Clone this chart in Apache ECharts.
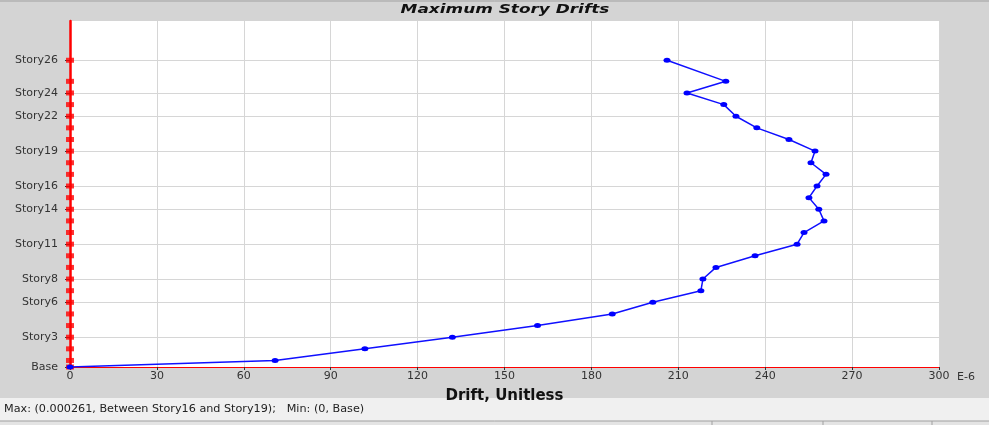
<!DOCTYPE html>
<html>
<head>
<meta charset="utf-8">
<script src="https://cdn.jsdelivr.net/npm/echarts@6/dist/echarts.min.js"></script>
<style>html,body{margin:0;padding:0;background:#d4d4d4;}#c{width:989px;height:425px;}</style>
</head>
<body>
<div id="c"></div>
<script>
// Story names, elevations (m) and maximum drifts (x 1E-6)
const stories = ['Base','Story1','Story2','Story3','Story4','Story5','Story6','Story7','Story8','Story9','Story10','Story11','Story12','Story13','Story14','Story15','Story16','Story17','Story18','Story19','Story20','Story21','Story22','Story23','Story24','Story25','Story26'];
const elevations = [0, 1.8, 5.0, 8.2, 11.4, 14.6, 17.8, 21.0, 24.2, 27.4, 30.6, 33.8, 37.0, 40.2, 43.4, 46.6, 49.8, 53.0, 56.2, 59.4, 62.6, 65.8, 69.0, 72.2, 75.4, 78.6, 84.4];
const drifts = [0, 70.8, 101.8, 132.0, 161.4, 187.2, 201.2, 217.8, 218.5, 223.0, 236.5, 251.0, 253.4, 260.3, 258.5, 255.1, 257.9, 261.0, 255.8, 257.2, 248.2, 237.1, 229.9, 225.7, 213.0, 226.4, 206.1];
const labeledStories = ['Base','Story3','Story6','Story8','Story11','Story14','Story16','Story19','Story22','Story24','Story26'];
const xMin = 0, xMax = 300, xStep = 30;
const yMax = 95.2;
const titleText = 'Maximum Story Drifts';
const xAxisName = 'Drift, Unitless';
const xUnit = 'E-6';
const statusText = 'Max: (0.000261, Between Story16 and Story19);   Min: (0, Base)';

const labeledElev = labeledStories.map(s => elevations[stories.indexOf(s)]);
function storyAt(v){
  let best = 0, d = Infinity;
  elevations.forEach((e,i)=>{ const dd = Math.abs(e - v); if (dd < d){ d = dd; best = i; } });
  return stories[best];
}

const font = 'DejaVu Sans';
const chart = echarts.init(document.getElementById('c'), null, {renderer:'canvas'});
chart.setOption({
  backgroundColor: '#d4d4d4',
  animation: false,
  grid: { left: 70, top: 21, width: 869, height: 346, show: true, backgroundColor: '#ffffff', borderWidth: 0 },
  xAxis: {
    type: 'value', min: xMin, max: xMax, interval: xStep,
    name: xAxisName, nameLocation: 'middle', nameGap: 22,
    nameTextStyle: { fontFamily: font, fontWeight: 'bold', fontSize: 15, color: '#111' },
    axisLine: { show: true, onZero: false, lineStyle: { color: '#ff0000', width: 1 } },
    axisTick: { show: true, length: 3, lineStyle: { color: '#333' } },
    axisLabel: { fontFamily: font, fontSize: 11, color: '#333', margin: 4 },
    splitLine: { show: true, lineStyle: { color: '#d6d6d6', width: 1 } }
  },
  yAxis: {
    type: 'value', min: 0, max: yMax,
    axisLine: { show: true, onZero: false, lineStyle: { color: '#ff0000', width: 2.5 } },
    axisTick: { show: true, length: 5, customValues: labeledElev, lineStyle: { color: '#333' } },
    axisLabel: { fontFamily: font, fontSize: 11, color: '#333', margin: 12, customValues: labeledElev, formatter: v => storyAt(v) },
    splitLine: { show: true, lineStyle: { color: '#d6d6d6', width: 1 } }
  },
  series: [
    {
      type: 'scatter', name: 'levels',
      data: elevations.map(e => [0, e]),
      symbol: 'rect', symbolSize: [8, 5],
      itemStyle: { color: '#ff0000' }, z: 3, silent: true
    },
    {
      type: 'line', name: 'drift',
      data: drifts.map((d, i) => [d, elevations[i]]),
      symbol: 'circle', symbolSize: [7, 5], showSymbol: true,
      lineStyle: { color: '#1010ff', width: 1.5 },
      itemStyle: { color: '#0000ff' }, z: 4, silent: true
    }
  ],
  graphic: [
    { type: 'line', shape: { x1: 0, y1: 1, x2: 989, y2: 1 }, style: { stroke: '#a0a0a0', lineWidth: 1 }, silent: true },
    { type: 'text', x: 505, y: 10, scaleX: 1.3, style: { text: titleText, font: 'italic bold 13px "DejaVu Sans"', fill: '#111', align: 'center', verticalAlign: 'middle' } },
    { type: 'text', x: 957, y: 377, style: { text: xUnit, font: '11px "DejaVu Sans"', fill: '#333', align: 'left', verticalAlign: 'middle' } },
    { type: 'rect', shape: { x: 0, y: 398, width: 989, height: 23 }, style: { fill: '#f0f0f0' }, silent: true },
    { type: 'text', x: 4, y: 409, scaleX: 1.12, style: { text: statusText, font: '10px "DejaVu Sans"', fill: '#222', align: 'left', verticalAlign: 'middle' } },
    { type: 'rect', shape: { x: 0, y: 421, width: 989, height: 4 }, style: { fill: '#e4e4e4' }, silent: true },
    { type: 'line', shape: { x1: 0, y1: 421, x2: 989, y2: 421 }, style: { stroke: '#a0a0a0', lineWidth: 1 }, silent: true },
    { type: 'line', shape: { x1: 712, y1: 421, x2: 712, y2: 425 }, style: { stroke: '#a0a0a0', lineWidth: 1 }, silent: true },
    { type: 'line', shape: { x1: 823, y1: 421, x2: 823, y2: 425 }, style: { stroke: '#a0a0a0', lineWidth: 1 }, silent: true },
    { type: 'line', shape: { x1: 932, y1: 421, x2: 932, y2: 425 }, style: { stroke: '#a0a0a0', lineWidth: 1 }, silent: true }
  ]
});
</script>
</body>
</html>
